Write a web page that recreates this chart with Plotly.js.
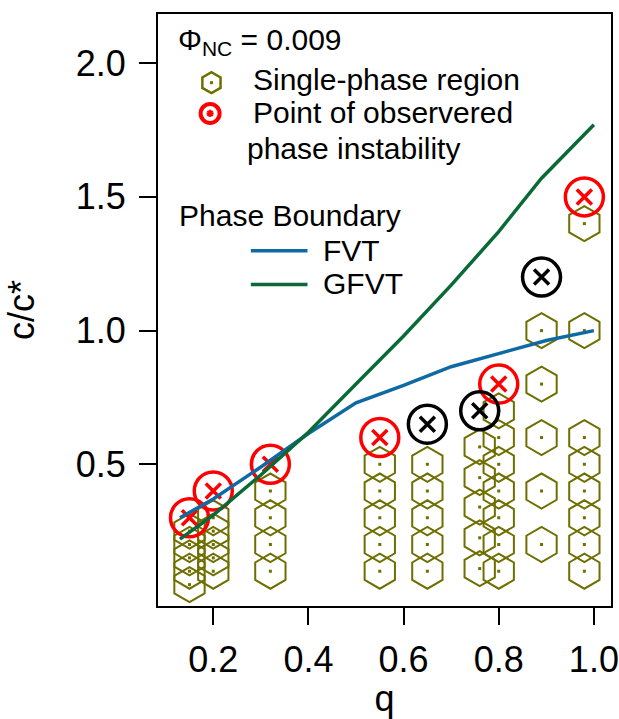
<!DOCTYPE html>
<html>
<head>
<meta charset="utf-8">
<script src="https://cdn.plot.ly/plotly-3.0.1.min.js"></script>
<style>html,body{margin:0;padding:0;background:#fff;}</style>
</head>
<body>
<div id="chart" style="width:619px;height:719px;"></div>
<script>
// ---- data ----
const singleQ = [0.15,0.15,0.15,0.15,0.15,
                 0.2,0.2,0.2,0.2,0.2,
                 0.32,0.32,0.32,0.32,
                 0.55,0.55,0.55,0.55,0.55,
                 0.65,0.65,0.65,0.65,0.65,
                 0.76,0.76,0.76,0.76,0.76,
                 0.8,0.8,0.8,0.8,0.8,0.8,0.8,
                 0.89,0.89,0.89,0.89,0.89,
                 0.98,0.98,0.98,0.98,0.98,0.98,0.98,0.98];
const singleC = [0.05,0.1,0.15,0.2,0.25,
                 0.1,0.15,0.2,0.25,0.3,
                 0.1,0.2,0.3,0.4,
                 0.1,0.2,0.3,0.4,0.5,
                 0.1,0.2,0.3,0.4,0.5,
                 0.11,0.225,0.34,0.45,0.565,
                 0.1,0.2,0.3,0.4,0.5,0.6,0.7,
                 0.2,0.4,0.6,0.8,1.0,
                 0.1,0.2,0.3,0.4,0.5,0.6,1.0,1.4];
const redQ = [0.15,0.2,0.32,0.55,0.8,0.98];
const redC = [0.3,0.4,0.5,0.6,0.8,1.5];
const blackQ = [0.65,0.76,0.89];
const blackC = [0.65,0.70,1.2];
const fvtQ = [0.13,0.2,0.3,0.4,0.5,0.6,0.7,0.8,0.9,1.0];
const fvtC = [0.30,0.37,0.49,0.615,0.73,0.795,0.865,0.915,0.963,1.0];
const gfvtQ = [0.13,0.2,0.3,0.4,0.5,0.6,0.7,0.8,0.89,1.0];
const gfvtC = [0.22,0.31,0.46,0.62,0.80,0.98,1.17,1.37,1.57,1.77];
const xTicks = [0.2,0.4,0.6,0.8,1.0];
const yTicks = [0.5,1.0,1.5,2.0];

// ---- styles ----
const OLIVE = '#6f6f00', RED = '#ff0000', BLUE = '#0f6aa3', GREEN = '#0a6a37';
const FONT = 'Liberation Sans, Arial, sans-serif';

const traces = [
  {x: singleQ, y: singleC, mode:'markers', type:'scatter',
   marker:{symbol:'hexagon-open', size:35, color:OLIVE, line:{color:OLIVE, width:2}}},
  {x: singleQ, y: singleC, mode:'markers', type:'scatter',
   marker:{symbol:'square', size:3, color:OLIVE, line:{width:0}}},
  {x: redQ, y: redC, mode:'markers', type:'scatter',
   marker:{symbol:'circle-open', size:38, color:RED, line:{color:RED, width:3.5}}},
  {x: redQ, y: redC, mode:'markers', type:'scatter',
   marker:{symbol:'x-thin-open', size:15, color:RED, line:{color:RED, width:3.5}}},
  {x: blackQ, y: blackC, mode:'markers', type:'scatter',
   marker:{symbol:'circle-open', size:38, color:'#000', line:{color:'#000', width:3.5}}},
  {x: blackQ, y: blackC, mode:'markers', type:'scatter',
   marker:{symbol:'x-thin-open', size:15, color:'#000', line:{color:'#000', width:3.5}}},
  {x: fvtQ, y: fvtC, mode:'lines', type:'scatter', line:{color:BLUE, width:3.5}},
  {x: gfvtQ, y: gfvtC, mode:'lines', type:'scatter', line:{color:GREEN, width:3.5}},
  // legend samples on overlay axes (fractions of plot area)
  {x:[0.118], y:[0.884], xaxis:'x2', yaxis:'y2', mode:'markers', type:'scatter',
   marker:{symbol:'hexagon-open', size:21, color:OLIVE, line:{color:OLIVE, width:2.5}}},
  {x:[0.118], y:[0.884], xaxis:'x2', yaxis:'y2', mode:'markers', type:'scatter',
   marker:{symbol:'square', size:3, color:OLIVE, line:{width:0}}},
  {x:[0.115], y:[0.832], xaxis:'x2', yaxis:'y2', mode:'markers', type:'scatter',
   marker:{symbol:'circle-open', size:19, color:RED, line:{color:RED, width:4}}},
  {x:[0.115], y:[0.832], xaxis:'x2', yaxis:'y2', mode:'markers', type:'scatter',
   marker:{symbol:'asterisk-open', size:6, color:RED, line:{color:RED, width:2}}},
  {x:[0.205,0.330], y:[0.600,0.600], xaxis:'x2', yaxis:'y2', mode:'lines', type:'scatter',
   line:{color:BLUE, width:3.5}},
  {x:[0.205,0.330], y:[0.543,0.543], xaxis:'x2', yaxis:'y2', mode:'lines', type:'scatter',
   line:{color:GREEN, width:3.5}}
];

function ann(text, x, y) {
  return {text:text, x:x, y:y, xref:'paper', yref:'paper', xanchor:'left', yanchor:'middle',
          showarrow:false, font:{family:FONT, size:30, color:'#000'}};
}

const layout = {
  width:619, height:719,
  margin:{l:158, r:8, t:14, b:113},
  paper_bgcolor:'#fff', plot_bgcolor:'#fff',
  showlegend:false,
  font:{family:FONT, color:'#000'},
  xaxis:{range:[0.0838,1.036], tickvals:xTicks, tickformat:'.1f',
         ticks:'outside', ticklen:17, tickwidth:2, tickcolor:'#000',
         showline:true, linewidth:2, linecolor:'#000', mirror:true,
         showgrid:false, zeroline:false,
         tickfont:{family:FONT, size:36}, ticklabelstandoff:4,
         title:{text:'q', font:{family:FONT, size:36}, standoff:9}},
  yaxis:{range:[-0.03,2.184], tickvals:yTicks, tickformat:'.1f',
         ticks:'outside', ticklen:17, tickwidth:2, tickcolor:'#000',
         showline:true, linewidth:2, linecolor:'#000', mirror:true,
         showgrid:false, zeroline:false,
         tickfont:{family:FONT, size:36}, ticklabelstandoff:6,
         title:{text:'c/c*', font:{family:FONT, size:36}, standoff:30}},
  xaxis2:{overlaying:'x', range:[0,1], visible:false, fixedrange:true},
  yaxis2:{overlaying:'y', range:[0,1], visible:false, fixedrange:true},
  annotations:[
    ann('Φ<sub>NC</sub> = 0.009', 0.040, 0.953),
    ann('Single-phase region', 0.206, 0.889),
    ann('Point of observered', 0.206, 0.833),
    ann('phase instability', 0.193, 0.772),
    ann('Phase Boundary', 0.043, 0.659),
    ann('FVT', 0.360, 0.600),
    ann('GFVT', 0.360, 0.544)
  ]
};

Plotly.newPlot('chart', traces, layout, {displayModeBar:false, staticPlot:true});
</script>
</body>
</html>
